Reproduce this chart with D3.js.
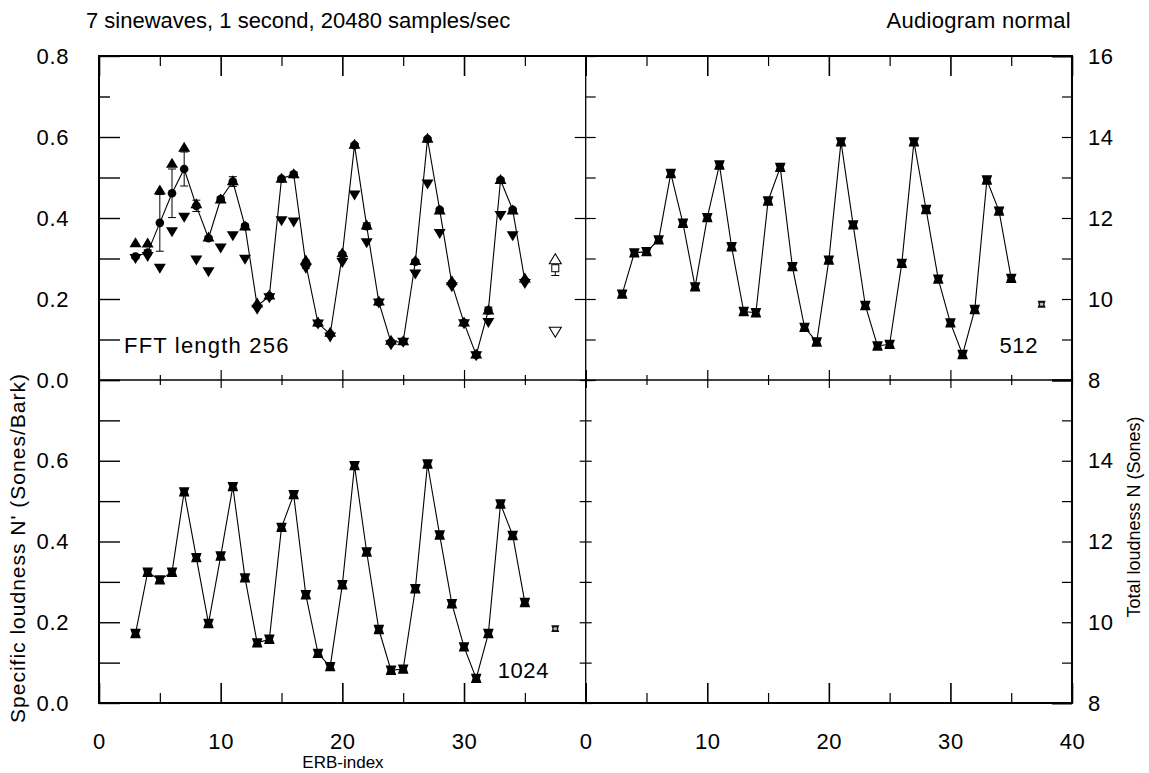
<!DOCTYPE html>
<html>
<head>
<meta charset="utf-8">
<script src="https://cdn.jsdelivr.net/npm/d3@7"></script>
<style>
  html, body { margin: 0; padding: 0; background: #fff; }
  svg { display: block; }
  text { font-family: "Liberation Sans", Arial, Helvetica, sans-serif; fill: #000; }
</style>
</head>
<body>
<svg id="chart" width="1149" height="773"></svg>
<script>
// ERB band index of each specific-loudness value
const erb = d3.range(3, 36);

// FFT length 256: mean, spread (max / min) and standard deviation per band
const mean256 = [0.305, 0.315, 0.388, 0.461, 0.521, 0.430, 0.350, 0.447, 0.490, 0.380, 0.183,
                 0.207, 0.497, 0.508, 0.286, 0.140, 0.113, 0.310, 0.580, 0.380, 0.192, 0.093,
                 0.095, 0.292, 0.595, 0.420, 0.238, 0.141, 0.062, 0.172, 0.494, 0.420, 0.245];
const max256  = [0.339, 0.338, 0.469, 0.535, 0.575, 0.435, 0.353, 0.447, 0.492, 0.380, 0.190,
                 0.210, 0.498, 0.509, 0.296, 0.143, 0.118, 0.314, 0.582, 0.383, 0.195, 0.098,
                 0.097, 0.295, 0.597, 0.420, 0.245, 0.143, 0.064, 0.173, 0.495, 0.420, 0.252];
const min256  = [0.300, 0.305, 0.276, 0.366, 0.402, 0.296, 0.267, 0.326, 0.356, 0.298, 0.175,
                 0.203, 0.393, 0.390, 0.276, 0.138, 0.106, 0.290, 0.457, 0.339, 0.190, 0.087,
                 0.093, 0.262, 0.484, 0.362, 0.230, 0.139, 0.060, 0.142, 0.406, 0.356, 0.238];
const sd256   = [0.004, 0.006, 0.070, 0.060, 0.042, 0.014, 0.004, 0.005, 0.012, 0.005, 0.004,
                 0.004, 0.004, 0.005, 0.010, 0.003, 0.004, 0.005, 0.004, 0.008, 0.003, 0.003,
                 0.003, 0.005, 0.004, 0.004, 0.006, 0.003, 0.003, 0.008, 0.004, 0.004, 0.005];

// FFT length 512 and 1024: specific loudness per band
const mean512  = [0.212, 0.314, 0.317, 0.346, 0.510, 0.387, 0.230, 0.401, 0.531, 0.329, 0.169,
                  0.166, 0.442, 0.525, 0.280, 0.130, 0.094, 0.296, 0.588, 0.383, 0.184, 0.084,
                  0.088, 0.288, 0.588, 0.421, 0.249, 0.141, 0.063, 0.174, 0.494, 0.417, 0.251];
const mean1024 = [0.172, 0.324, 0.305, 0.324, 0.523, 0.360, 0.197, 0.364, 0.536, 0.310, 0.149,
                  0.158, 0.435, 0.516, 0.268, 0.123, 0.090, 0.293, 0.588, 0.374, 0.182, 0.081,
                  0.084, 0.283, 0.592, 0.416, 0.246, 0.139, 0.061, 0.172, 0.493, 0.415, 0.249];

// Total loudness in sones (right-hand axis), plotted beside the last band
const totalX = 37.5;
const total256 = { mean: 10.76, sd: 0.18, max: 10.98, min: 9.19 };
const total512 = 9.87;
const total1024 = 9.84;

// Tick values and labels
const xMajor = [0, 10, 20, 30, 40];
const xMinor = [5, 15, 25, 35];
const xLabelsLeft = [0, 10, 20, 30];
const xLabelsRight = [0, 10, 20, 30, 40];
const yTicks = d3.range(0, 0.81, 0.1).map(v => +v.toFixed(1));
const yLabelsTop = [0, 0.2, 0.4, 0.6, 0.8];
const yLabelsBottom = [0, 0.2, 0.4, 0.6];
const nTicks = d3.range(8, 17);
const nLabelsTop = [8, 10, 12, 14, 16];
const nLabelsBottom = [8, 10, 12, 14];

const title = "7 sinewaves, 1 second, 20480 samples/sec";
const subtitle = "Audiogram normal";

const svg = d3.select("#chart");

// Panel geometry
const X0 = 99, XM = 585.7, X1 = 1072;
const Y0 = 56, YM = 380, Y1 = 703;

const xL = d3.scaleLinear([0, 40], [X0, XM]);
const xR = d3.scaleLinear([0, 40], [XM, X1]);
const yT = d3.scaleLinear([0, 0.8], [YM, Y0]);
const yB = d3.scaleLinear([0, 0.8], [Y1, YM]);
const nT = d3.scaleLinear([8, 16], [YM, Y0]);
const nB = d3.scaleLinear([8, 16], [Y1, YM]);

const FS = 22;

// ---- axis helpers ----
function tickAxis(axisFn, scale, values, size, tx, ty, width = 1.2) {
  const g = svg.append("g").attr("transform", `translate(${tx},${ty})`)
    .call(axisFn(scale).tickValues(values).tickSize(size).tickFormat(""));
  g.select(".domain").remove();
  g.selectAll(".tick line").attr("stroke", "#000").attr("stroke-width", width);
  return g;
}
function labelAxis(axisFn, scale, values, pad, tx, ty, fmt) {
  const g = svg.append("g").attr("transform", `translate(${tx},${ty})`)
    .call(axisFn(scale).tickValues(values).tickSize(0).tickPadding(pad).tickFormat(fmt));
  g.select(".domain").remove();
  g.selectAll("text").attr("font-size", FS).attr("font-family", "Liberation Sans, Arial, sans-serif")
    .attr("letter-spacing", 0.6).attr("fill", "#000");
  return g;
}

// x ticks on every horizontal edge
[xL, xR].forEach(x => {
  tickAxis(d3.axisBottom, x, xMajor, 20, 0, Y0, 1.6);   // top edge
  tickAxis(d3.axisBottom, x, xMinor, 10, 0, Y0, 1.2);
  tickAxis(d3.axisTop, x, xMajor, 10, 0, YM, 1.2);      // upper panels, lower edge
  tickAxis(d3.axisTop, x, xMinor, 5, 0, YM, 1.2);
  tickAxis(d3.axisBottom, x, xMajor, 8, 0, YM, 1.2);    // lower panels, upper edge
  tickAxis(d3.axisBottom, x, xMinor, 5, 0, YM, 1.2);
  tickAxis(d3.axisTop, x, xMajor, 20, 0, Y1, 1.6);      // bottom edge
  tickAxis(d3.axisTop, x, xMinor, 10, 0, Y1, 1.2);
});

// y ticks
tickAxis(d3.axisRight, yT, yTicks.filter(v => v !== 0.7), 21, X0, 0, 1.4);   // left edge
tickAxis(d3.axisRight, yT, [0.7], 11, X0, 0, 1.4);
tickAxis(d3.axisRight, yB, yTicks, 21, X0, 0, 1.4);
tickAxis(d3.axisLeft, yT, [0.2, 0.4, 0.6], 11, XM, 0, 1.2);
tickAxis(d3.axisRight, yT, yTicks, 10, XM, 0, 1.2);
tickAxis(d3.axisLeft, yB, yTicks, 6, XM, 0, 1.2);
tickAxis(d3.axisRight, yB, yTicks, 6, XM, 0, 1.2);
[nT, nB].forEach(n => {
  tickAxis(d3.axisLeft, n, nTicks.filter(v => v > 8 && v < 16), 10, X1, 0, 1.2);
  tickAxis(d3.axisLeft, n, [8, 16], 20, X1, 0, 2);
});

// tick labels
const fmtY = d3.format(".1f");
labelAxis(d3.axisLeft, yT, yLabelsTop, 30, X0, 0, fmtY);
labelAxis(d3.axisLeft, yB, yLabelsBottom, 30, X0, 0, fmtY);
labelAxis(d3.axisRight, nT, nLabelsTop, 16, X1, 0, d3.format("d"));
labelAxis(d3.axisRight, nB, nLabelsBottom, 16, X1, 0, d3.format("d"));
labelAxis(d3.axisBottom, xL, xLabelsLeft, 30, 0, Y1, d3.format("d"));
labelAxis(d3.axisBottom, xR, xLabelsRight, 30, 0, Y1, d3.format("d"));

// frame
svg.append("line").attr("x1", XM).attr("x2", XM).attr("y1", Y0).attr("y2", Y1)
  .attr("stroke", "#000").attr("stroke-width", 1.3);
svg.append("line").attr("x1", X0).attr("x2", X1).attr("y1", YM).attr("y2", YM)
  .attr("stroke", "#000").attr("stroke-width", 1.3);
svg.append("rect").attr("x", X0).attr("y", Y0).attr("width", X1 - X0).attr("height", Y1 - Y0)
  .attr("fill", "none").attr("stroke", "#000").attr("stroke-width", 2);

// ---- marker shapes ----
const upTri = "M0,-5.5L6,4.5L-6,4.5Z";
const downTri = "M0,5.5L6,-4.5L-6,-4.5Z";
const notchBox = "M-5.3,-4.7H5.3L3.6,0L5.3,4.7H-5.3L-3.6,0Z";
const notchBoxSmall = "M-4,-3.4H4L2.8,0L4,3.4H-4L-2.8,0Z";

const lineGen = (x, y) => d3.line().x((d, i) => x(erb[i])).y(d => y(d));

// ---- panel 1: FFT length 256 ----
const p1 = svg.append("g");
p1.append("path").datum(mean256).attr("d", lineGen(xL, yT))
  .attr("fill", "none").attr("stroke", "#000").attr("stroke-width", 1.1);
const eb = p1.append("g").selectAll("g").data(erb).join("g");
eb.append("line")
  .attr("x1", d => xL(d)).attr("x2", d => xL(d))
  .attr("y1", (d, i) => yT(mean256[i] - sd256[i])).attr("y2", (d, i) => yT(mean256[i] + sd256[i]))
  .attr("stroke", "#000").attr("stroke-width", 1);
[-1, 1].forEach(s => {
  eb.append("line")
    .attr("x1", d => xL(d) - 4).attr("x2", d => xL(d) + 4)
    .attr("y1", (d, i) => yT(mean256[i] + s * sd256[i])).attr("y2", (d, i) => yT(mean256[i] + s * sd256[i]))
    .attr("stroke", "#000").attr("stroke-width", 1);
});
p1.append("g").selectAll("circle").data(mean256).join("circle")
  .attr("cx", (d, i) => xL(erb[i])).attr("cy", d => yT(d)).attr("r", 4.3).attr("fill", "#000");
p1.append("g").selectAll("path").data(min256).join("path")
  .attr("d", downTri).attr("transform", (d, i) => `translate(${xL(erb[i])},${yT(d)})`).attr("fill", "#000");
p1.append("g").selectAll("path").data(max256).join("path")
  .attr("d", upTri).attr("transform", (d, i) => `translate(${xL(erb[i])},${yT(d)})`).attr("fill", "#000");

// total loudness, FFT 256 (open symbols, right axis)
const tx = xL(totalX);
p1.append("line").attr("x1", tx).attr("x2", tx)
  .attr("y1", nT(total256.mean - total256.sd)).attr("y2", nT(total256.mean + total256.sd))
  .attr("stroke", "#000").attr("stroke-width", 1);
[-1, 1].forEach(s => p1.append("line").attr("x1", tx - 4).attr("x2", tx + 4)
  .attr("y1", nT(total256.mean + s * total256.sd)).attr("y2", nT(total256.mean + s * total256.sd))
  .attr("stroke", "#000").attr("stroke-width", 1));
p1.append("rect").attr("x", tx - 3.5).attr("y", nT(total256.mean) - 3.5).attr("width", 7).attr("height", 7)
  .attr("fill", "#fff").attr("stroke", "#000").attr("stroke-width", 1);
p1.append("path").attr("d", upTri).attr("transform", `translate(${tx},${nT(total256.max)})`)
  .attr("fill", "#fff").attr("stroke", "#000").attr("stroke-width", 1.1);
p1.append("path").attr("d", downTri).attr("transform", `translate(${tx},${nT(total256.min)})`)
  .attr("fill", "#fff").attr("stroke", "#000").attr("stroke-width", 1.1);

// ---- panels 2 and 3: FFT length 512 / 1024 ----
function simplePanel(values, x, y, n, total) {
  const g = svg.append("g");
  g.append("path").datum(values).attr("d", lineGen(x, y))
    .attr("fill", "none").attr("stroke", "#000").attr("stroke-width", 1.1);
  g.append("g").selectAll("path").data(values).join("path")
    .attr("d", notchBox).attr("transform", (d, i) => `translate(${x(erb[i])},${y(d)})`).attr("fill", "#000");
  const t = g.append("g").attr("transform", `translate(${x(totalX)},${n(total)})`);
  t.append("path").attr("d", notchBoxSmall).attr("fill", "#111");
  t.append("rect").attr("x", -1.6).attr("y", -1.4).attr("width", 3.2).attr("height", 2.8).attr("fill", "#bbb");
}
simplePanel(mean512, xR, yT, nT, total512);
simplePanel(mean1024, xL, yB, nB, total1024);

// ---- text ----
svg.append("text").attr("x", 86).attr("y", 28).attr("font-size", FS).text(title);
svg.append("text").attr("x", 1071).attr("y", 28).attr("font-size", FS).attr("text-anchor", "end")
  .attr("letter-spacing", 0.3).text(subtitle);
svg.append("text").attr("x", 124).attr("y", 353).attr("font-size", 22).attr("letter-spacing", 1.2).text("FFT length 256");
svg.append("text").attr("x", 1038).attr("y", 353).attr("font-size", 22).attr("text-anchor", "end").attr("letter-spacing", 0.6).text("512");
svg.append("text").attr("x", 549).attr("y", 678).attr("font-size", 22).attr("text-anchor", "end").attr("letter-spacing", 0.6).text("1024");
svg.append("text").attr("x", 343).attr("y", 768).attr("font-size", 17).attr("text-anchor", "middle").text("ERB-index");
svg.append("text").attr("transform", "translate(25,548) rotate(-90)").attr("font-size", 21)
  .attr("letter-spacing", 1).attr("text-anchor", "middle").text("Specific loudness N' (Sones/Bark)");
svg.append("text").attr("transform", "translate(1140,517) rotate(-90)").attr("font-size", 18)
  .attr("text-anchor", "middle").text("Total loudness N (Sones)");
</script>
</body>
</html>
